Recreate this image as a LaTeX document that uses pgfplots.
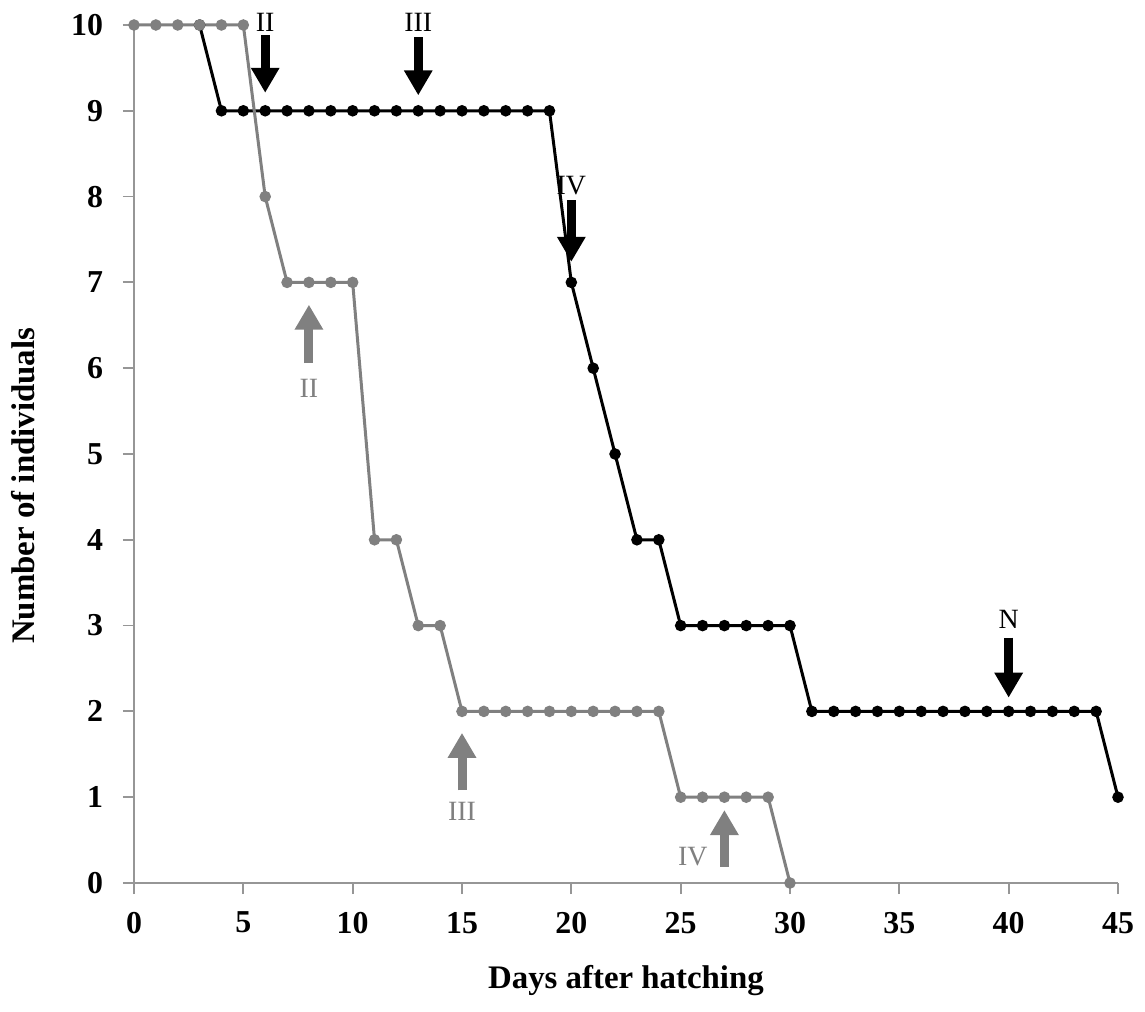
\documentclass[border=0pt]{standalone}
\usepackage{fontspec}
\setmainfont{Liberation Serif}
\usepackage{pgfplots}
\pgfplotsset{compat=1.18}
\usetikzlibrary{arrows.meta}
\definecolor{sgray}{RGB}{128,128,128}
\definecolor{agray}{RGB}{150,150,150}

\begin{document}
\begin{tikzpicture}
\begin{axis}[
  scale only axis, width=492bp, height=429bp,
  xmin=0, xmax=45, ymin=0, ymax=10,
  xtick={0,5,...,45}, ytick={0,1,...,10},
  axis lines=left,
  axis line style={agray, line width=0.9bp, -},
  tick style={agray, line width=0.9bp},
  tick align=outside, major tick length=5.5bp,
  ticklabel style={font=\fontsize{16}{18}\selectfont\bfseries},
  yticklabel style={xshift=-6.5bp},
  xticklabel style={yshift=-5.5bp},
  /pgf/number format/assume math mode=true,
  xlabel={Days after hatching},
  ylabel={Number of individuals},
  label style={font=\fontsize{16.5}{18}\selectfont\bfseries},
  xlabel style={at={(axis description cs:0.5,0)}, anchor=base, yshift=-52.5bp},
  ylabel style={at={(axis description cs:0,0.463)}, anchor=base, rotate=0, yshift=49.5bp},
  clip=false,
]
% larvae reared at the first condition (black)
\addplot[black, line width=1.5bp, mark=*, mark size=2.1bp] coordinates {
  (3,10) (4,9) (5,9) (6,9) (7,9) (8,9) (9,9) (10,9) (11,9) (12,9) (13,9)
  (14,9) (15,9) (16,9) (17,9) (18,9) (19,9) (20,7) (21,6) (22,5) (23,4)
  (24,4) (25,3) (26,3) (27,3) (28,3) (29,3) (30,3) (31,2) (32,2) (33,2)
  (34,2) (35,2) (36,2) (37,2) (38,2) (39,2) (40,2) (41,2) (42,2) (43,2)
  (44,2) (45,1)
};
% second condition (gray)
\addplot[sgray, line width=1.5bp, mark=*, mark size=2.1bp] coordinates {
  (0,10) (1,10) (2,10) (3,10) (4,10) (5,10) (6,8) (7,7) (8,7) (9,7) (10,7)
  (11,4) (12,4) (13,3) (14,3) (15,2) (16,2) (17,2) (18,2) (19,2) (20,2)
  (21,2) (22,2) (23,2) (24,2) (25,1) (26,1) (27,1) (28,1) (29,1) (30,0)
};

% stage arrows
\tikzset{stg/.style={line width=4.5bp, -{Triangle[width=13.5bp,length=12.5bp]}},
         lbl/.style={font=\fontsize{14}{16}\selectfont, inner sep=0pt}}
\draw[stg, black] (axis cs:6,9.88) -- (axis cs:6,9.21);
\node[lbl, black] at (axis cs:6,10.03) {II};
\draw[stg, black] (axis cs:13,9.86) -- (axis cs:13,9.18);
\node[lbl, black] at (axis cs:13,10.03) {III};
\draw[stg, black] (axis cs:20,7.96) -- (axis cs:20,7.24);
\node[lbl, black] at (axis cs:20,8.13) {IV};
\draw[stg, black] (axis cs:40,2.86) -- (axis cs:40,2.16);
\node[lbl, black] at (axis cs:40,3.07) {N};

\draw[stg, sgray] (axis cs:8,6.06) -- (axis cs:8,6.74);
\node[lbl, sgray] at (axis cs:8,5.77) {II};
\draw[stg, sgray] (axis cs:15,1.08) -- (axis cs:15,1.75);
\node[lbl, sgray] at (axis cs:15,0.84) {III};
\draw[stg, sgray] (axis cs:27,0.19) -- (axis cs:27,0.85);
\node[lbl, sgray] at (axis cs:25.56,0.31) {IV};
\end{axis}
\path (current axis.south west) ++(-67bp,-64.5bp) coordinate (bbA);
\path (current axis.north east) ++(13.5bp,12.5bp) coordinate (bbB);
\path (bbA) rectangle (bbB);
\end{tikzpicture}
\end{document}
